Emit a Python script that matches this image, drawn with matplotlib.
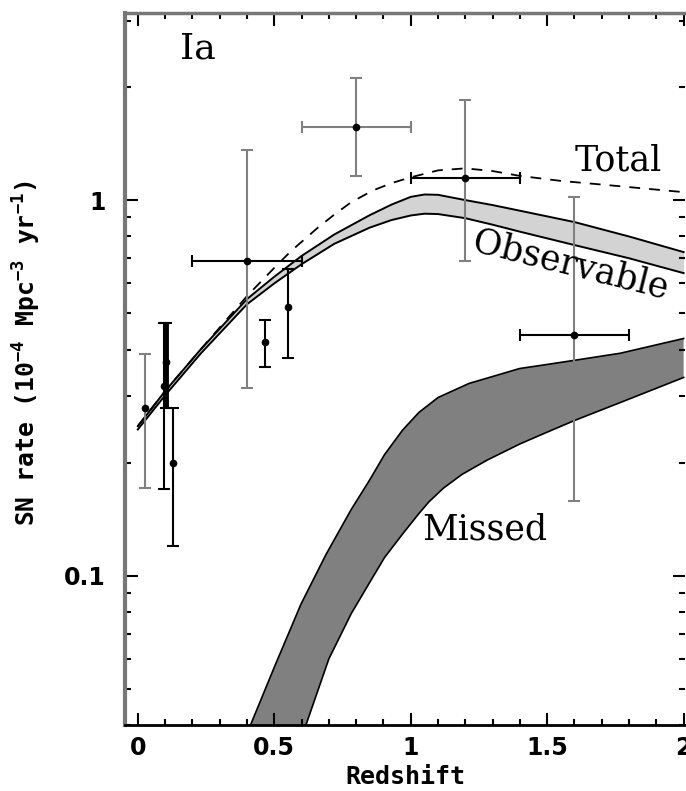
import numpy as np
import matplotlib
matplotlib.use("Agg")
import matplotlib.pyplot as plt
from matplotlib.ticker import MultipleLocator, NullFormatter

plt.rcParams['mathtext.default'] = 'regular'

# data points: redshift, rate, upper/lower error, redshift half-bin
pt_z = [0.026, 0.095, 0.105, 0.13, 0.40, 0.465, 0.55, 0.80, 1.20, 1.60]
pt_rate = [0.28, 0.32, 0.37, 0.20, 0.69, 0.42, 0.52, 1.57, 1.145, 0.436]
pt_hi = [0.39, 0.47, 0.47, 0.28, 1.36, 0.48, 0.655, 2.12, 1.85, 1.02]
pt_lo = [0.171, 0.17, 0.28, 0.12, 0.315, 0.36, 0.38, 1.16, 0.69, 0.158]
pt_zerr = [0, 0, 0, 0, 0.2, 0, 0, 0.2, 0.2, 0.2]
pt_vcol = ['gray', 'k', 'k', 'k', 'gray', 'k', 'k', 'gray', 'gray', 'gray']
pt_hcol = ['k', 'k', 'k', 'k', 'k', 'k', 'k', 'gray', 'k', 'k']
pt_lw = [1.5, 1.5, 3.5, 1.5, 1.5, 1.5, 1.5, 1.5, 1.5, 1.5]

# observable band
obs_z = [0.0, 0.1, 0.23, 0.4, 0.5, 0.6, 0.72, 0.85, 0.93, 1.0, 1.05, 1.1, 1.2, 1.3, 1.4, 1.6, 1.8, 2.0]
obs_hi = [0.25, 0.31, 0.40, 0.545, 0.625, 0.71, 0.81, 0.912, 0.973, 1.02, 1.035, 1.033, 1.0, 0.97, 0.937, 0.874, 0.80, 0.727]
obs_lo = [0.245, 0.302, 0.39, 0.528, 0.60, 0.675, 0.765, 0.845, 0.885, 0.91, 0.92, 0.918, 0.895, 0.86, 0.824, 0.759, 0.70, 0.639]

# total (dashed)
tot_z = [0.0, 0.1, 0.23, 0.4, 0.5, 0.56, 0.66, 0.72, 0.78, 0.86, 0.93, 1.0, 1.1, 1.2, 1.3, 1.4, 1.55, 1.7, 2.0]
tot_rate = [0.25, 0.31, 0.40, 0.555, 0.66, 0.73, 0.845, 0.915, 0.985, 1.06, 1.11, 1.15, 1.20, 1.215, 1.195, 1.16, 1.125, 1.10, 1.05]

# missed band
mis_hi_z = [0.413, 0.5, 0.598, 0.69, 0.782, 0.85, 0.904, 0.97, 1.03, 1.1, 1.214, 1.3, 1.399, 1.5, 1.601, 1.768, 2.0]
mis_hi = [0.04, 0.057, 0.084, 0.114, 0.150, 0.180, 0.210, 0.244, 0.272, 0.298, 0.325, 0.339, 0.356, 0.365, 0.3745, 0.391, 0.428]
mis_lo_z = [0.616, 0.7, 0.782, 0.85, 0.904, 0.97, 1.03, 1.066, 1.12, 1.188, 1.28, 1.399, 1.5, 1.601, 1.768, 2.0]
mis_lo = [0.04, 0.06, 0.0792, 0.096, 0.1117, 0.129, 0.1463, 0.157, 0.171, 0.186, 0.203, 0.224, 0.241, 0.259, 0.289, 0.337]

fig = plt.figure(figsize=(6.86, 7.91), dpi=100)
ax = fig.add_axes([125 / 686, 66 / 791, 560 / 686, 712 / 791])

# missed
ax.fill(mis_hi_z + mis_lo_z[::-1], mis_hi + mis_lo[::-1], color='#808080', lw=0)
ax.plot(mis_hi_z, mis_hi, 'k-', lw=1.2)
ax.plot(mis_lo_z, mis_lo, 'k-', lw=1.2)

# observable
ax.fill_between(obs_z, obs_lo, obs_hi, color='#d3d3d3', lw=0)
ax.plot(obs_z, obs_hi, 'k-', lw=1.4)
ax.plot(obs_z, obs_lo, 'k-', lw=1.4)

# total
ax.plot(tot_z, tot_rate, 'k--', lw=1.3, dashes=(6, 5))

# points
for i in range(len(pt_z)):
    yerr = [[pt_rate[i] - pt_lo[i]], [pt_hi[i] - pt_rate[i]]]
    ax.errorbar(pt_z[i], pt_rate[i], yerr=yerr, fmt='none', ecolor=pt_vcol[i],
                elinewidth=pt_lw[i], capsize=4.5, capthick=1.5)
    if pt_zerr[i] > 0:
        ax.errorbar(pt_z[i], pt_rate[i], xerr=pt_zerr[i], fmt='none', ecolor=pt_hcol[i],
                    elinewidth=1.5, capsize=4.5, capthick=1.5)
    ax.plot(pt_z[i], pt_rate[i], 'ko', ms=4.5)

ax.set_yscale('log')
ax.set_xlim(-0.047, 2.005)
ax.set_ylim(0.04, 3.15)

ax.xaxis.set_minor_locator(MultipleLocator(0.1))
ax.set_xticks([0, 0.5, 1, 1.5, 2], ['0', '0.5', '1', '1.5', '2'])
ax.set_yticks([0.1, 1], ['0.1', '1'])
ax.yaxis.set_minor_formatter(NullFormatter())

ax.tick_params(which='both', direction='in', top=True, right=True, width=1.5)
ax.tick_params(which='major', length=9, labelsize=17)
ax.tick_params(axis='x', which='major', pad=8)
ax.tick_params(axis='y', which='major', pad=14)
ax.tick_params(which='minor', length=4.5)
for lab in ax.get_xticklabels() + ax.get_yticklabels():
    lab.set_fontweight('bold')

ax.spines['right'].set_visible(False)
ax.spines['left'].set_color('#777777')
ax.spines['top'].set_color('#777777')
ax.spines['left'].set_linewidth(3)
ax.spines['top'].set_linewidth(2.5)
ax.spines['bottom'].set_linewidth(2)

ax.set_xlabel('Redshift', family='DejaVu Sans Mono', fontweight='bold', fontsize=18)
ax.set_ylabel('SN rate (10$^{-4}$ Mpc$^{-3}$ yr$^{-1}$)', family='DejaVu Sans Mono',
              fontweight='bold', fontsize=17.8)
ax.xaxis.set_label_coords(0.5, -0.056)
ax.yaxis.set_label_coords(-0.147, 0.522)

ax.text(0.22, 2.54, 'Ia', family='DejaVu Serif', fontsize=26, ha='center', va='center')
ax.text(1.76, 1.278, 'Total', family='DejaVu Serif', fontsize=25, ha='center', va='center')
ax.text(1.587, 0.671, 'Observable', family='DejaVu Serif', fontsize=25, ha='center',
        va='center', rotation=-14)
ax.text(1.27, 0.133, 'Missed', family='DejaVu Serif', fontsize=25, ha='center', va='center')

fig.savefig('out.png', dpi=100)
